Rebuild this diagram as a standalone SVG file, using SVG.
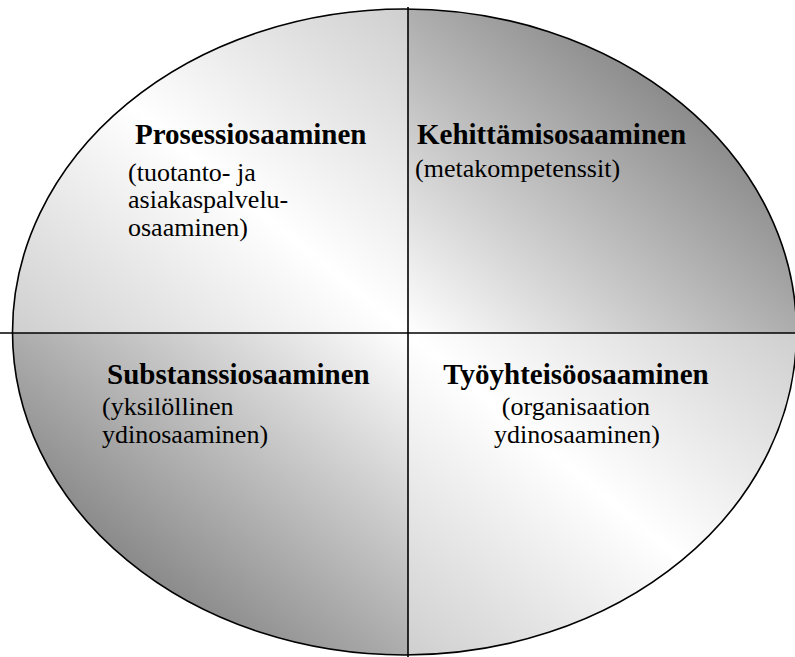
<svg xmlns="http://www.w3.org/2000/svg" width="795" height="657" viewBox="0 0 795 657">
  <style>
    .title { font-family: "Liberation Serif", "Times New Roman", serif; font-weight: bold; font-size: 29px; fill: #000; }
    .sub { font-family: "Liberation Serif", "Times New Roman", serif; font-size: 26px; fill: #000; }
    .mid { text-anchor: middle; }
    .outline { fill: none; stroke: #000; stroke-width: 1.6; }
    .axis { stroke: #000; stroke-width: 1.6; }
  </style>
  <defs>
    <!-- grey at two opposite corners, white along the middle diagonal -->
    <linearGradient id="gCenter" x1="1" y1="0" x2="0" y2="1">
      <stop offset="0" stop-color="#cfcfcf"/>
      <stop offset="0.5" stop-color="#ffffff"/>
      <stop offset="1" stop-color="#cfcfcf"/>
    </linearGradient>
    <!-- dark outer corner fading to white toward the middle -->
    <linearGradient id="gTopRight" x1="1" y1="0" x2="0" y2="1">
      <stop offset="0" stop-color="#5c5c5c"/>
      <stop offset="1" stop-color="#ffffff"/>
    </linearGradient>
    <linearGradient id="gBottomLeft" x1="0" y1="1" x2="1" y2="0">
      <stop offset="0" stop-color="#5a5a5a"/>
      <stop offset="1" stop-color="#ffffff"/>
    </linearGradient>
  </defs>

  <!-- four quarters of the ellipse -->
  <g id="prosessi">
    <path d="M408,333 L12.5,333 A392,323 0 0 1 408,9 Z" fill="url(#gCenter)"/>
    <text class="title" x="135" y="144">Prosessiosaaminen</text>
    <text class="sub" x="128" y="181">(tuotanto- ja</text>
    <text class="sub" x="128" y="208">asiakaspalvelu-</text>
    <text class="sub" x="128" y="236">osaaminen)</text>
  </g>
  <g id="kehittamis">
    <path d="M408,333 L408,9 A392,323 0 0 1 796.5,333 Z" fill="url(#gTopRight)"/>
    <text class="title" x="417" y="144">Kehittämisosaaminen</text>
    <text class="sub" x="415" y="177">(metakompetenssit)</text>
  </g>
  <g id="substanssi">
    <path d="M408,333 L408,655 A392,323 0 0 1 12.5,333 Z" fill="url(#gBottomLeft)"/>
    <text class="title" x="107" y="384">Substanssiosaaminen</text>
    <text class="sub" x="102" y="415">(yksilöllinen</text>
    <text class="sub" x="102" y="443">ydinosaaminen)</text>
  </g>
  <g id="tyoyhteiso">
    <path d="M408,333 L796.5,333 A392,323 0 0 1 408,655 Z" fill="url(#gCenter)"/>
    <text class="title mid" x="576" y="384">Työyhteisöosaaminen</text>
    <text class="sub mid" x="576" y="415">(organisaation</text>
    <text class="sub mid" x="577" y="443">ydinosaaminen)</text>
  </g>

  <!-- outline and dividing axes -->
  <g id="connectors">
    <ellipse class="outline" cx="404.5" cy="332" rx="392" ry="323"/>
    <line class="axis" x1="408" y1="7" x2="408" y2="657"/>
    <line class="axis" x1="0" y1="333" x2="795" y2="333"/>
  </g>
</svg>
